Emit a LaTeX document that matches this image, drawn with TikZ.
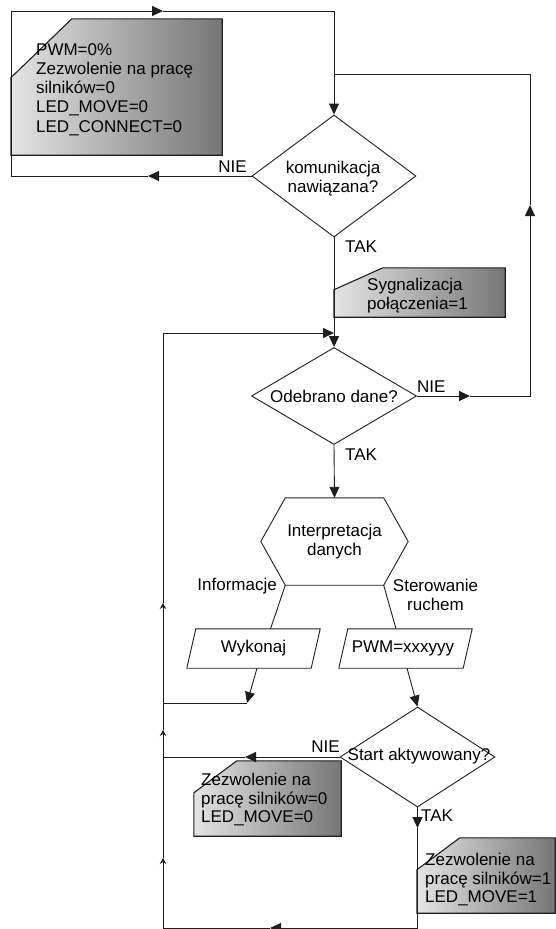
\documentclass[tikz,border=0pt]{standalone}
\usepackage{fontspec}
\setmainfont{Liberation Sans}
\usetikzlibrary{arrows.meta,shapes.geometric,calc}
\definecolor{gradL}{RGB}{228,228,228}
\definecolor{gradR}{RGB}{118,118,118}
\definecolor{ink}{RGB}{30,30,30}
\begin{document}
\begin{tikzpicture}[x=1pt,y=-1pt,
  every node/.append style={inner sep=0pt, font=\fontsize{17}{18.5}\selectfont},
  line/.style={draw=ink, line width=0.9pt},
  tip/.style={-{Triangle[length=11pt,width=10pt]}},
  chev/.style={-{Stealth[length=6pt,width=6.5pt,inset=2pt]}},
  dec/.style={diamond, draw=ink, line width=0.9pt, inner sep=0pt},
  shp/.style={rectangle, align=center},
  outline/.style={draw=ink, line width=0.9pt},
  boxn/.style={rectangle},
  boxfill/.style={draw=ink, line width=1.1pt, left color=gradL, right color=gradR},
]
\useasboundingbox (0,0) rectangle (556,929);

% ---------- shapes ----------
\node[boxn, minimum width=211, minimum height=136] (b1) at (116.5,87) {};
\path[boxfill] ($(b1.north west)+(61,0)$) -- (b1.north east) -- (b1.south east) -- (b1.south west) -- ($(b1.north west)+(0,59)$) -- cycle;
\node[anchor=north west, align=left, font=\fontsize{17}{19.3}\selectfont] (t1) at (36,43) {PWM=0\%\\Zezwolenie na pracę\\silników=0\\LED\_MOVE=0\\LED\_CONNECT=0};

\node[dec, minimum width=164, minimum height=122] (d1) at (334,176) {};
\node[anchor=north, align=center] (t2) at (333,161) {komunikacja\\nawiązana?};

\node[boxn, minimum width=171, minimum height=49] (b2) at (419.5,292.5) {};
\path[boxfill] ($(b2.north west)+(49,0)$) -- (b2.north east) -- (b2.south east) -- (b2.south west) -- ($(b2.north west)+(0,22)$) -- cycle;
\node[anchor=north west, align=left] (t3) at (367,278) {Sygnalizacja\\połączenia=1};

\node[dec, minimum width=165, minimum height=97] (d2) at (334,396) {};
\node[anchor=base] (t4) at (334,402) {Odebrano dane?};

\node[shp, minimum width=147, minimum height=87] (hex) at (334.5,541.5) {Interpretacja\\danych};
\draw[outline] ($(hex.north west)+(24.5,0)$) -- ($(hex.north east)+(-24.5,0)$) -- (hex.east) -- ($(hex.south east)+(-24.5,0)$) -- ($(hex.south west)+(24.5,0)$) -- (hex.west) -- cycle;

\node[shp, minimum width=133, minimum height=39] (wyk) at (253.5,648.5) {Wykonaj};
\draw[outline] ($(wyk.north west)+(9,0)$) -- (wyk.north east) -- ($(wyk.south east)+(-9,0)$) -- (wyk.south west) -- cycle;

\node[shp, minimum width=133, minimum height=39] (pwm) at (405.5,648.5) {\hspace*{-5pt}PWM=xxxyyy};
\draw[outline] ($(pwm.north west)+(9,0)$) -- (pwm.north east) -- ($(pwm.south east)+(-9,0)$) -- (pwm.south west) -- cycle;

\node[dec, minimum width=155, minimum height=100] (d3) at (417.5,757) {};
\node[anchor=base] (t5) at (419,760) {Start aktywowany?};

\node[boxn, minimum width=147, minimum height=75] (b3) at (267.5,798.5) {};
\path[boxfill] ($(b3.north west)+(43,0)$) -- (b3.north east) -- (b3.south east) -- (b3.south west) -- ($(b3.north west)+(0,32)$) -- cycle;
\node[anchor=north west, align=left] (t6) at (201,773) {Zezwolenie na\\pracę silników=0\\LED\_MOVE=0};

\node[boxn, minimum width=138, minimum height=75] (b4) at (486,875.5) {};
\path[boxfill] ($(b4.north west)+(43,0)$) -- (b4.north east) -- (b4.south east) -- (b4.south west) -- ($(b4.north west)+(0,32)$) -- cycle;
\node[anchor=north west, align=left] (t7) at (425,853) {Zezwolenie na\\pracę silników=1\\LED\_MOVE=1};

% ---------- labels ----------
\node[anchor=base east] (lnie1) at (247,172) {NIE};
\node[anchor=base west] (ltak1) at (345,252) {TAK};
\node[anchor=base west] (lnie2) at (417,392) {NIE};
\node[anchor=base west] (ltak2) at (345,460) {TAK};
\node[anchor=base east] (linf) at (277,590) {Informacje};
\node[anchor=north, align=center] (lster) at (435.5,579) {Sterowanie\\ruchem};
\node[anchor=base east] (lnie3) at (340,752) {NIE};
\node[anchor=base west] (ltak3) at (421,821) {TAK};

% ---------- coordinates ----------
\coordinate (nA) at (148,176);
\coordinate (c1) at (11,176);
\coordinate (c2) at (11,11);
\coordinate (nB) at (163,11);
\coordinate (c3) at (334,11);
\coordinate (j1) at (334,74);
\coordinate (c4) at (530,74);
\coordinate (nC) at (530,205);
\coordinate (c5) at (530,396);
\coordinate (nD) at (470,396);
\coordinate (j2) at (334,333);
\coordinate (c9) at (163,333);
\coordinate (v3) at (163,603);
\coordinate (k1) at (247,703);
\coordinate (c10) at (163,703);
\coordinate (v2) at (163,730);
\coordinate (nG) at (245,757);
\coordinate (c6) at (163,757);
\coordinate (nE) at (417.5,828);
\coordinate (c7) at (417.5,928);
\coordinate (nF) at (270,928);
\coordinate (c8) at (163,928);
\coordinate (v1) at (163,858);

% ---------- connectors ----------
\draw[line,tip] (d1.west) -- (nA);
\draw[line,tip] (nA) -- (c1) -- (c2) -- (nB);
\draw[line,tip] (nB) -- (c3) -- (d1.north);
\draw[line,tip] (d1.south) -- (d2.north);
\draw[line,tip] (d2.east) -- (nD);
\draw[line,tip] (nD) -- (c5) -- (nC);
\draw[line] (nC) -- (c4) -- (j1);
\draw[line,tip] (d2.south) -- (hex.north);
\draw[line] ($(hex.south west)+(24.5,0)$) -- ($(wyk.north)+(17,0)$);
\draw[line] ($(hex.south east)+(-24.5,0)$) -- ($(pwm.north)+(-9.5,0)$);
\draw[line,tip] ($(wyk.south)+(3.5,0)$) -- (k1);
\draw[line] (k1) -- (c10);
\draw[line,tip] ($(pwm.south)+(1.5,0)$) -- (d3.north);
\draw[line,tip] (d3.west) -- (nG);
\draw[line] (nG) -- (c6);
\draw[line,tip] (d3.south) -- (nE);
\draw[line,tip] (nE) -- (c7) -- (nF);
\draw[line] (nF) -- (c8);
\draw[line,chev] (c8) -- (v1);
\draw[line,chev] (v1) -- (v2);
\draw[line,chev] (v2) -- (v3);
\draw[line,tip] (v3) -- (c9) -- (j2);
\end{tikzpicture}
\end{document}
